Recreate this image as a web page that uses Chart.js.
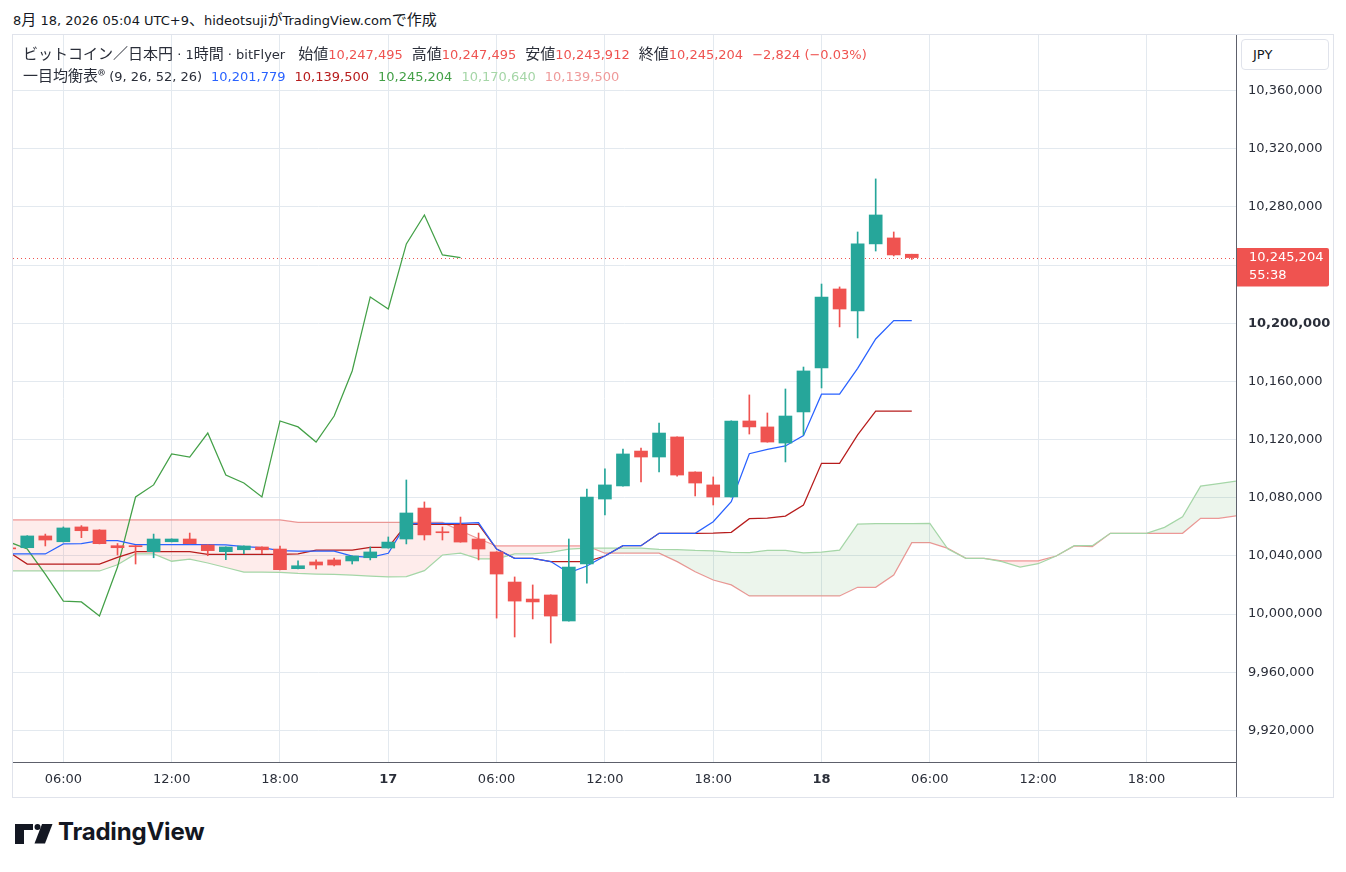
<!DOCTYPE html>
<html lang="ja">
<head>
<meta charset="utf-8">
<title>ビットコイン／日本円 · 1時間 · 一目均衡表</title>
<script src="https://cdn.jsdelivr.net/npm/chart.js@4.4.1/dist/chart.umd.min.js"></script>
<style>
    html, body { margin: 0; padding: 0; background: #fff; }
    body { width: 1346px; height: 872px; position: relative; overflow: hidden;
           font-family: "DejaVu Sans", "Noto Sans CJK JP", sans-serif; color: #131722; }
    .j { font-family: "Noto Sans CJK JP", sans-serif; font-size: 15px; }
    #title { position: absolute; left: 13px; top: 9px; font-size: 13px; line-height: 20px; white-space: nowrap; }
    #frame { position: absolute; left: 12px; top: 34px; width: 1322px; height: 764px;
             box-sizing: border-box; border: 1px solid #e0e3eb; }
    #wrap { position: absolute; left: 13px; top: 35px; width: 1320px; height: 762px; }
    .leg { position: absolute; left: 23px; font-size: 13px; line-height: 20px; white-space: nowrap; color: #2a2e39; z-index: 2; }
    .leg .g { margin-left: 9px; }
    .dn { color: #ef5350; }
    #jpy { position: absolute; left: 1241px; top: 39px; width: 88px; height: 31px; box-sizing: border-box;
           border: 1px solid #e0e3eb; border-radius: 4px; background: #fff; font-size: 13px;
           line-height: 29px; padding-left: 11px; color: #131722; z-index: 2; }
    #logo { position: absolute; left: 15px; top: 822px; }
    #logoText { position: absolute; left: 58px; top: 817px; font-family: Inter, Roboto, sans-serif;
                font-weight: 700; font-size: 24px; line-height: 30px; letter-spacing: -0.2px; color: #131722; }
</style>
</head>
<body>

<div id="title">8<span class="j">月</span> 18, 2026 05:04 UTC+9<span class="j">、</span>hideotsuji<span class="j">が</span>TradingView.com<span class="j">で作成</span></div>
<div id="frame"></div>
<div id="wrap"><canvas id="grafico"></canvas></div>

<div class="leg" style="top:43px">
    <span class="j">ビットコイン／日本円</span> · 1<span class="j">時間</span> · bitFlyer
    <span class="g"><span class="j">始値</span><span class="dn">10,247,495</span></span><span class="g"><span class="j">高値</span><span class="dn">10,247,495</span></span><span class="g"><span class="j">安値</span><span class="dn">10,243,912</span></span><span class="g"><span class="j">終値</span><span class="dn">10,245,204</span></span><span class="g dn">−2,824 (−0.03%)</span>
</div>
<div class="leg" style="top:65px">
    <span class="j">一目均衡表®</span> (9, 26, 52, 26)<span class="g" style="color:#2962ff">10,201,779</span><span class="g" style="color:#b71c1c">10,139,500</span><span class="g" style="color:#43a047">10,245,204</span><span class="g" style="color:#a5d6a7">10,170,640</span><span class="g" style="color:#ef9a9a">10,139,500</span>
</div>
<div id="jpy">JPY</div>

<svg id="logo" width="40" height="24" viewBox="0 0 40 24">
    <path d="M0 2h18v6h-9v14h-9z" fill="#131722"/>
    <circle cx="22.5" cy="5" r="3" fill="#131722"/>
    <path d="M27 2h10.5l-7.5 19.5h-10.5z" fill="#131722"/>
</svg>
<div id="logoText">TradingView</div>

<script>
// hours counted from 16日 00:00 (JST), one candle per hour
const candleHours = [3,4,5,6,7,8,9,10,11,12,13,14,15,16,17,18,19,20,21,22,23,24,25,26,27,28,
                     29,30,31,32,33,34,35,36,37,38,39,40,41,42,43,44,45,46,47,48,49,50,51,52,53];

const opens  = [10045500,10045600,10053700,10049700,10059900,10057800,10047000,10047000,10042900,10049700,
                10051600,10047500,10042900,10044200,10046100,10044700,10031200,10035800,10037200,10036500,
                10038700,10045400,10051600,10072900,10056400,10061200,10051600,10042700,10022000,10010300,
                10013100, 9995200,10034400,10079100,10088100,10112100,10108000,10121800,10097700,10088800,
                10080500,10132800,10128700,10117600,10139000,10169200,10223600,10208500,10254600,10258700,
                10247495];
const highs  = [10045800,10053900,10055000,10059900,10060800,10058000,10048500,10047100,10055000,10051700,
                10055700,10047600,10046200,10046900,10046200,10046800,10036500,10037200,10038500,10040000,
                10046100,10053000,10092200,10077100,10059900,10066700,10055700,10042800,10025500,10020000,
                10013200,10051600,10086000,10099800,10113500,10114200,10131400,10121900,10097800,10094300,
                10132900,10150700,10138300,10154800,10169900,10227000,10225000,10262800,10299300,10262800,
                10247495];
const lows   = [10044500,10045400,10046800,10049500,10052500,10048200,10040600,10034400,10038700,10049600,
                10048300,10040100,10037400,10041500,10041500,10030400,10031100,10031000,10033000,10034400,
                10037200,10045300,10048200,10050900,10050900,10049400,10037200, 9997200, 9984200, 9996600,
                 9980000, 9995100,10021300,10068100,10088000,10090800,10097700,10094900,10081200,10075000,
                10080400,10123800,10118200,10104600,10123200,10155500,10197500,10189900,10249700,10246300,
                10243912];
const closes = [10044800,10053700,10050900,10059200,10057300,10048400,10045600,10046300,10051600,10051600,
                10048400,10043600,10046100,10046800,10044200,10030500,10033200,10033700,10033700,10039900,
                10042700,10049500,10069500,10054400,10055900,10049500,10044700,10027500,10008900,10008300,
                 9998600,10032300,10080500,10088800,10110100,10108000,10124500,10095600,10090100,10080500,
                10132800,10128700,10118300,10136200,10167200,10218100,10209800,10254600,10274500,10247000,
                10245204];

// 転換線 / 基準線
const tenkan = [10041300,10041300,10041300,10048200,10048400,10050400,10050400,10047700,10047700,10047700,
                10047700,10047700,10047500,10046300,10045600,10043600,10043300,10043300,10043300,10039900,
                10039000,10041800,10062000,10062400,10062400,10062400,10062800,10044700,10038300,10038300,
                10036100,10028400,10033000,10039900,10047000,10047000,10055500,10055500,10055500,10063500,
                10077300,10110300,10113300,10115600,10122700,10151200,10151200,10169000,10189200,10201800,
                10201779];
const kijun  = [10042500,10034400,10034400,10034400,10034400,10034400,10039000,10042900,10042900,10042900,
                10042900,10041100,10041100,10041100,10041100,10041100,10041300,10044000,10044000,10044000,
                10045900,10045900,10061700,10061700,10061700,10061700,10061700,10044700,10038300,10038300,
                10036100,10036100,10036100,10039900,10047000,10047000,10055500,10055500,10055500,10055700,
                10056200,10065600,10066000,10067400,10075000,10103700,10103700,10123200,10139500,10139500,
                10139500];

// 先行スパン (already shifted forward)
const cloudHours = [3,4,5,6,7,8,9,10,11,12,13,14,15,16,17,18,19,20,21,22,23,24,25,26,27,28,29,30,31,32,33,34,35,36,
                    37,38,39,40,41,42,43,44,45,46,47,48,49,50,51,52,53,54,55,56,57,58,59,60,61,62,63,64,65,66,67,68,69,70,71];
const senkouA = [10029600,10029600,10029600,10029600,10029600,10029600,10033900,10041300,10041300,10036300,
                 10037800,10035100,10032000,10028900,10028900,10028600,10027900,10027500,10027300,10026800,
                 10026100,10025500,10025800,10029800,10040600,10041900,10037900,10037900,10041300,10041400,
                 10042400,10044700,10045300,10045300,10045300,10045300,10044400,10044300,10043700,10043400,
                 10042400,10042300,10043700,10043700,10042000,10042500,10043900,10061900,10062100,10062100,
                 10062100,10062300,10044700,10038300,10038300,10036100,10032300,10034600,10039900,10047000,
                 10047000,10055500,10055500,10055500,10059600,10066800,10088000,10089700,10091500];
const senkouB = [10064700,10064700,10064700,10064700,10064700,10064700,10064700,10064700,10064700,10064700,
                 10064700,10064700,10064700,10064700,10064700,10064700,10063000,10063000,10063000,10063000,
                 10063000,10063000,10063000,10063000,10063000,10057300,10051800,10046800,10046800,10046800,
                 10046800,10046800,10046800,10041800,10041800,10041800,10041800,10036000,10029100,10023400,
                 10020000,10012400,10012400,10012400,10012400,10012400,10012400,10018400,10018400,10026800,
                 10049100,10049100,10045200,10038300,10038300,10036500,10036500,10036500,10039900,10046800,
                 10046300,10055500,10055500,10055500,10055500,10055500,10065800,10065800,10067600];

const timeTicks      = [6, 12, 18, 24, 30, 36, 42, 48, 54, 60, 66];
const timeTickLabels = ['06:00','12:00','18:00','17','06:00','12:00','18:00','18','06:00','12:00','18:00'];
const priceTicks = [9920000, 9960000, 10000000, 10040000, 10080000, 10120000, 10160000,
                    10200000, 10240000, 10280000, 10320000, 10360000];
const countdown = '55:38';

const UP = '#26a69a', DOWN = '#ef5350';
const GRID = '#e3e9ef', AXIS = '#5d606b', TEXT = '#2a2e39';
const LW = 1.25;
const LAG = 25; // 遅行スパン: close plotted 25 bars back
const fmt = new Intl.NumberFormat('en-US');

const corVela = ctx => closes[ctx.dataIndex] >= opens[ctx.dataIndex] ? UP : DOWN;
const pontos = (xs, ys) => xs.map((x, i) => ({ x, y: ys[i] }));

const wicks  = candleHours.map((h, i) => ({ x: h, y: [lows[i], highs[i]] }));
const bodies = candleHours.map((h, i) => ({ x: h, y: [opens[i], closes[i]] }));
const chikou = candleHours.slice(0, candleHours.length - LAG).map((h, i) => ({ x: h, y: closes[i + LAG] }));

// ---------------- price line + tag ----------------
const priceTag = {
    id: 'priceTag',
    beforeDatasetsDraw(chart) {
        const { ctx, chartArea, scales: { y } } = chart;
        const py = Math.round(y.getPixelForValue(closes[closes.length - 1])) + 0.5;
        ctx.save();
        ctx.strokeStyle = DOWN;
        ctx.lineWidth = 1;
        ctx.setLineDash([1, 3]);
        ctx.beginPath();
        ctx.moveTo(chartArea.left, py);
        ctx.lineTo(chartArea.right, py);
        ctx.stroke();
        ctx.restore();
    },
    afterDraw(chart) {
        const { ctx, chartArea, scales: { y } } = chart;
        const last = closes[closes.length - 1];
        const py = y.getPixelForValue(last);
        ctx.save();
        // separator continues through the time axis
        ctx.strokeStyle = AXIS;
        ctx.lineWidth = 1;
        ctx.beginPath();
        ctx.moveTo(chartArea.right + 0.5, chartArea.bottom);
        ctx.lineTo(chartArea.right + 0.5, chart.height);
        ctx.stroke();

        ctx.fillStyle = DOWN;
        ctx.beginPath();
        ctx.roundRect(chartArea.right + 1, py - 9.5, 92, 38.5, [0, 2, 2, 0]);
        ctx.fill();
        ctx.fillStyle = '#fff';
        ctx.font = '13px "DejaVu Sans"';
        ctx.textBaseline = 'middle';
        ctx.fillText(fmt.format(last), chartArea.right + 13, py + 0.5);
        ctx.fillText(countdown, chartArea.right + 13, py + 18.5);
        ctx.restore();
    }
};

new Chart(document.getElementById('grafico'), {
    type: 'bar',
    data: {
        datasets: [
            { label: 'wick', data: wicks, backgroundColor: corVela, barThickness: 1, minBarLength: 1,
              borderWidth: 0, grouped: false, order: 1 },
            { label: 'body', data: bodies, backgroundColor: corVela, barThickness: 13, minBarLength: 1,
              borderWidth: 0, grouped: false, order: 0 },
            { label: '転換線', type: 'line', data: pontos(candleHours, tenkan), borderColor: '#2962ff',
              borderWidth: LW, pointRadius: 0, tension: 0, order: 2 },
            { label: '基準線', type: 'line', data: pontos(candleHours, kijun), borderColor: '#b71c1c',
              borderWidth: LW, pointRadius: 0, tension: 0, order: 2 },
            { label: '遅行スパン', type: 'line', data: chikou, borderColor: '#43a047',
              borderWidth: LW, pointRadius: 0, tension: 0, order: 3 },
            { label: '先行スパン1', type: 'line', data: pontos(cloudHours, senkouA), borderColor: '#a5d6a7',
              borderWidth: LW, pointRadius: 0, tension: 0, order: 4,
              fill: { target: 6, above: 'rgba(67,160,71,0.1)', below: 'rgba(244,67,54,0.1)' } },
            { label: '先行スパン2', type: 'line', data: pontos(cloudHours, senkouB), borderColor: '#ef9a9a',
              borderWidth: LW, pointRadius: 0, tension: 0, order: 4 }
        ]
    },
    options: {
        responsive: true,
        maintainAspectRatio: false,
        animation: false,
        devicePixelRatio: 1,
        layout: { padding: 0 },
        plugins: { legend: { display: false }, tooltip: { enabled: false } },
        scales: {
            x: {
                type: 'linear',
                min: 3.21, max: 70.96,
                offset: false,
                afterBuildTicks: s => { s.ticks = timeTicks.map(v => ({ value: v })); },
                afterFit: s => { s.height = 35; s.paddingLeft = 0; s.paddingRight = 0; },
                grid: { color: GRID, drawTicks: false, offset: false },
                border: { color: AXIS, width: 1 },
                ticks: {
                    padding: 10,
                    maxRotation: 0,
                    color: TEXT,
                    font: ctx => ({ family: 'DejaVu Sans', size: 13,
                                    weight: ctx.tick && ctx.tick.value % 24 === 0 ? 'bold' : 'normal' }),
                    callback: v => timeTickLabels[timeTicks.indexOf(v)]
                }
            },
            y: {
                position: 'right',
                min: 9898200, max: 10398300,
                afterBuildTicks: s => { s.ticks = priceTicks.map(v => ({ value: v })); },
                afterFit: s => { s.width = 97; s.paddingTop = 0; s.paddingBottom = 0; },
                grid: { color: GRID, drawTicks: false },
                border: { color: AXIS, width: 1 },
                ticks: {
                    padding: 12,
                    crossAlign: 'near',
                    color: TEXT,
                    // the label next to the conversion line value is drawn bold in the source
                    font: ctx => ({ family: 'DejaVu Sans', size: 13,
                                    weight: ctx.tick && ctx.tick.value === 10200000 ? 'bold' : 'normal' }),
                    callback: v => fmt.format(v)
                }
            }
        }
    },
    plugins: [priceTag]
});
</script>
</body>
</html>
